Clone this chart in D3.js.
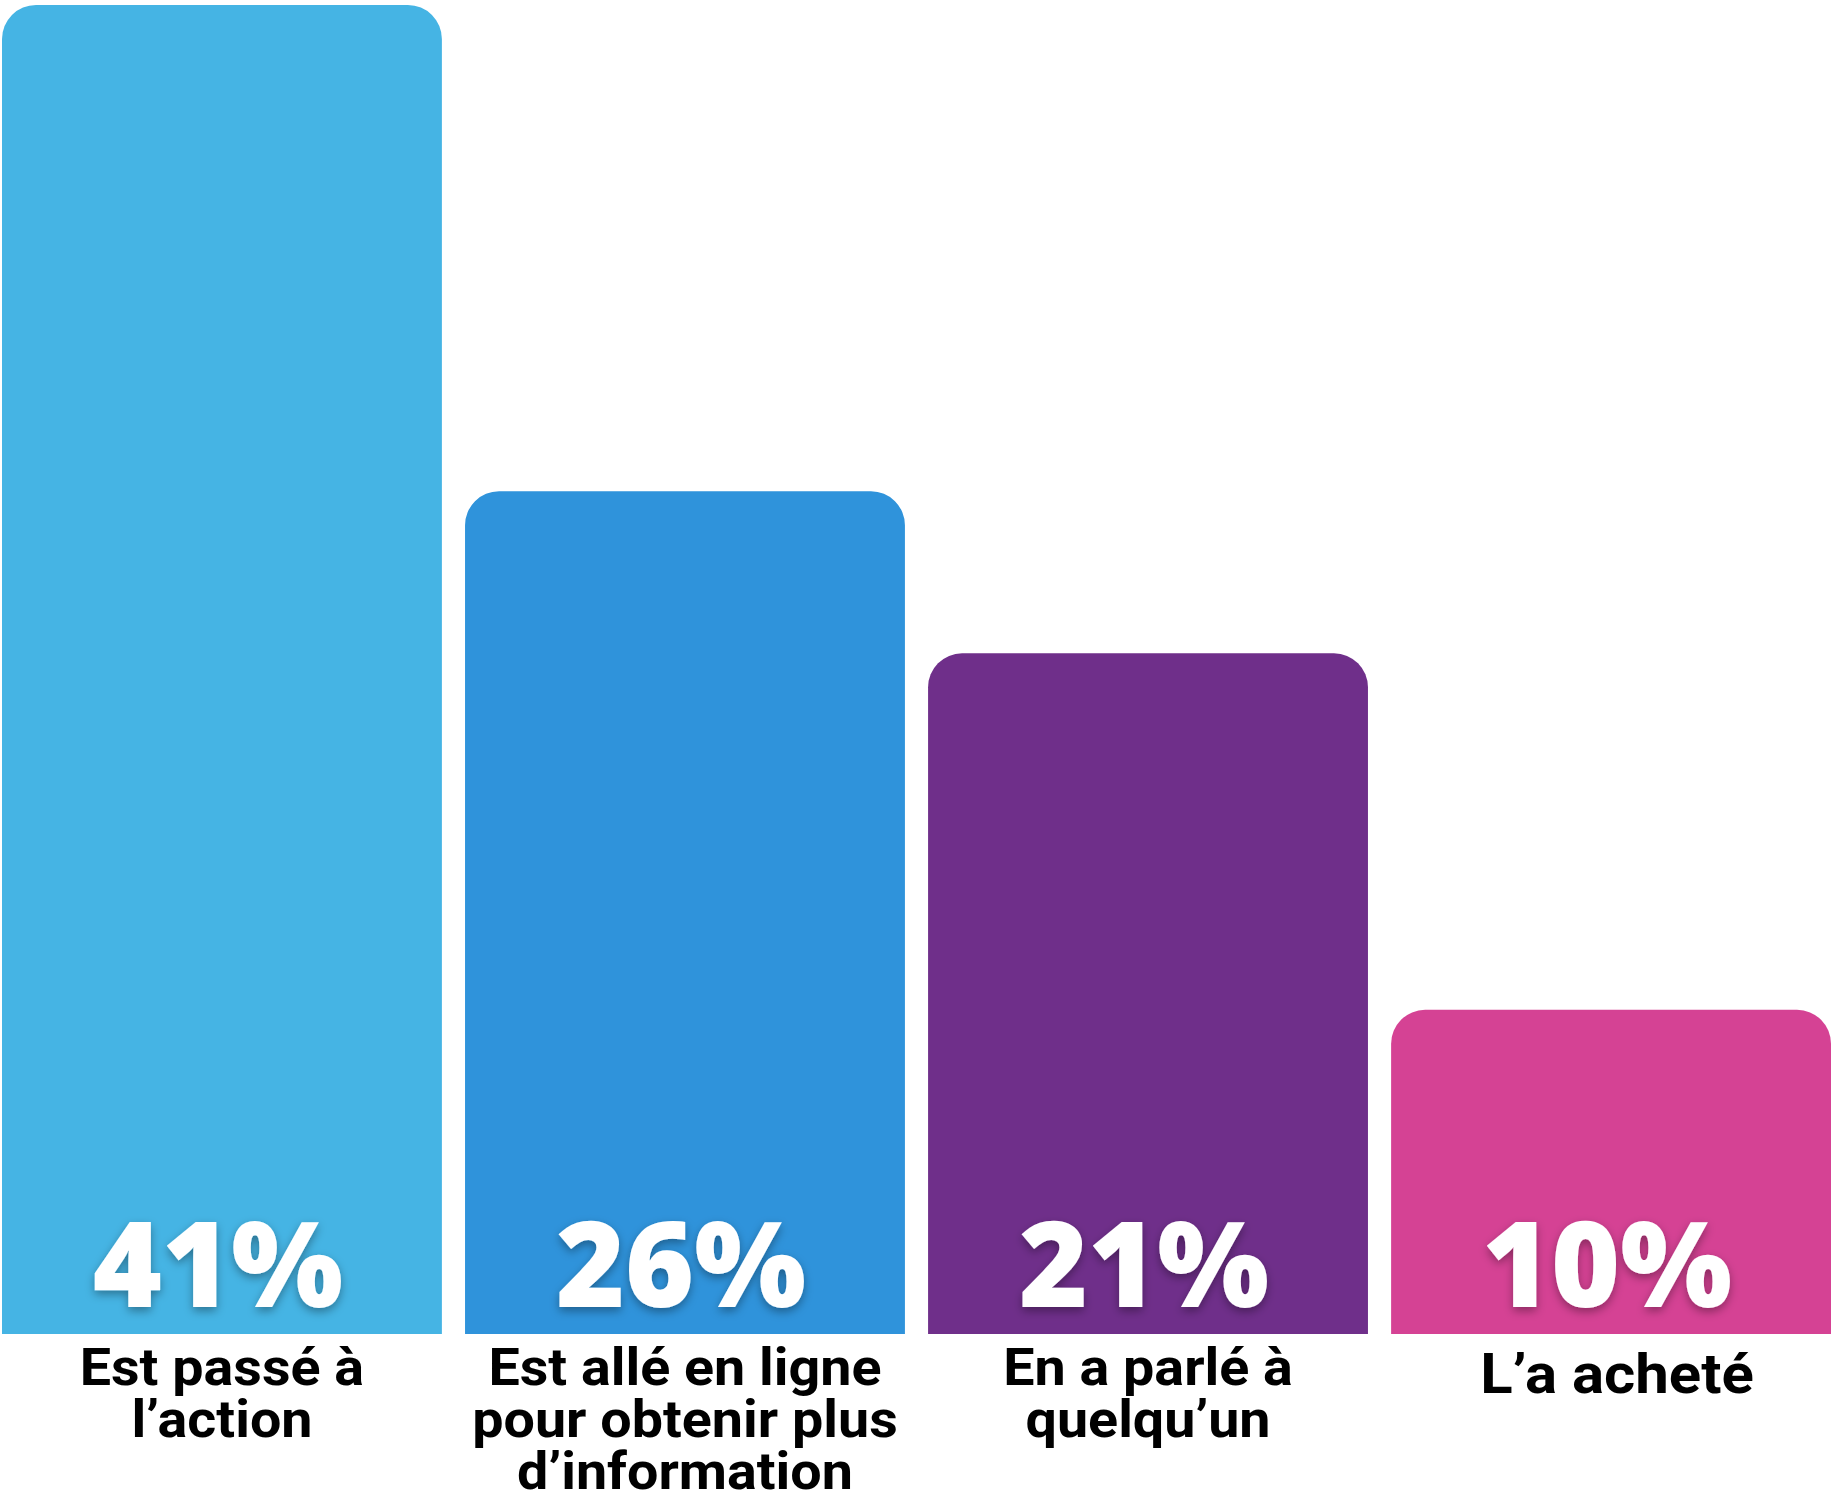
<!DOCTYPE html>
<html>
<head>
<meta charset="utf-8">
<script src="https://cdn.jsdelivr.net/npm/d3@7"></script>
<style>
  html, body { margin: 0; padding: 0; background: #ffffff; }
  svg { display: block; }
</style>
</head>
<body>
<div id="chart"></div>
<script>
// Survey results: share of respondents per action taken
const categories = ["Est passé à l’action", "Est allé en ligne pour obtenir plus d’information", "En a parlé à quelqu’un", "L’a acheté"];
const labelLines = [
  ["Est passé à", "l’action"],
  ["Est allé en ligne", "pour obtenir plus", "d’information"],
  ["En a parlé à", "quelqu’un"],
  ["L’a acheté"]
];
const values = [41, 26, 21, 10];
const colors = ["#45b4e4", "#2f93db", "#6f2f8a", "#d54294"];

const width = 1832, height = 1502;
const barBottom = 1334, barTop = 5;
const radius = 34;

const svg = d3.select("#chart").append("svg")
  .attr("width", width)
  .attr("height", height);

const defs = svg.append("defs");
const shadow = defs.append("filter")
  .attr("id", "valShadow")
  .attr("x", "-20%").attr("y", "-30%")
  .attr("width", "140%").attr("height", "160%");
shadow.append("feDropShadow")
  .attr("dx", 0).attr("dy", 4)
  .attr("stdDeviation", 5)
  .attr("flood-color", "#000")
  .attr("flood-opacity", 0.35);

const x = d3.scaleBand()
  .domain(categories)
  .range([2, 1831])
  .paddingInner(0.05)
  .paddingOuter(0);

const y = d3.scaleLinear()
  .domain([0, 41])
  .range([barBottom, barTop]);

// Bar with rounded top corners only
function topRoundedBar(x0, y0, w, h, r) {
  const p = d3.path();
  p.moveTo(x0, y0 + h);
  p.lineTo(x0, y0 + r);
  p.arcTo(x0, y0, x0 + r, y0, r);
  p.lineTo(x0 + w - r, y0);
  p.arcTo(x0 + w, y0, x0 + w, y0 + r, r);
  p.lineTo(x0 + w, y0 + h);
  p.closePath();
  return p.toString();
}

const data = categories.map((c, i) => ({ cat: c, value: values[i], color: colors[i], lines: labelLines[i] }));

const g = svg.append("g");

g.selectAll("path.bar")
  .data(data)
  .join("path")
  .attr("class", "bar")
  .attr("fill", d => d.color)
  .attr("d", d => topRoundedBar(x(d.cat), y(d.value), x.bandwidth(), y(0) - y(d.value), radius));

// Value labels inside the bars, near the base
g.selectAll("text.value")
  .data(data)
  .join("text")
  .attr("class", "value")
  .attr("x", d => x(d.cat) + x.bandwidth() / 2 - 4)
  .attr("y", y(0) - 27)
  .attr("text-anchor", "middle")
  .attr("fill", "#ffffff")
  .attr("font-family", "'Open Sans', sans-serif")
  .attr("font-weight", 800)
  .attr("font-size", 118)
  .attr("filter", "url(#valShadow)")
  .text(d => d.value + "%");

// Category labels below the bars, slightly widened; a single-line label is set larger
const lineHeight = 52;
const labels = g.selectAll("text.cat")
  .data(data)
  .join("text")
  .attr("class", "cat")
  .attr("transform", d => {
    const cx = x(d.cat) + x.bandwidth() / 2 + (d.lines.length === 1 ? 6 : 0);
    const by = d.lines.length === 1 ? 1393 : 1385;
    return `translate(${cx},${by}) scale(1.07,1)`;
  })
  .attr("text-anchor", "middle")
  .attr("fill", "#000000")
  .attr("font-family", "Roboto, sans-serif")
  .attr("font-weight", 700)
  .attr("font-size", d => d.lines.length === 1 ? 56 : 52);

labels.selectAll("tspan")
  .data(d => d.lines.map((t, i) => ({ t, i })))
  .join("tspan")
  .attr("x", 0)
  .attr("dy", d => d.i === 0 ? 0 : lineHeight)
  .text(d => d.t);
</script>
</body>
</html>
